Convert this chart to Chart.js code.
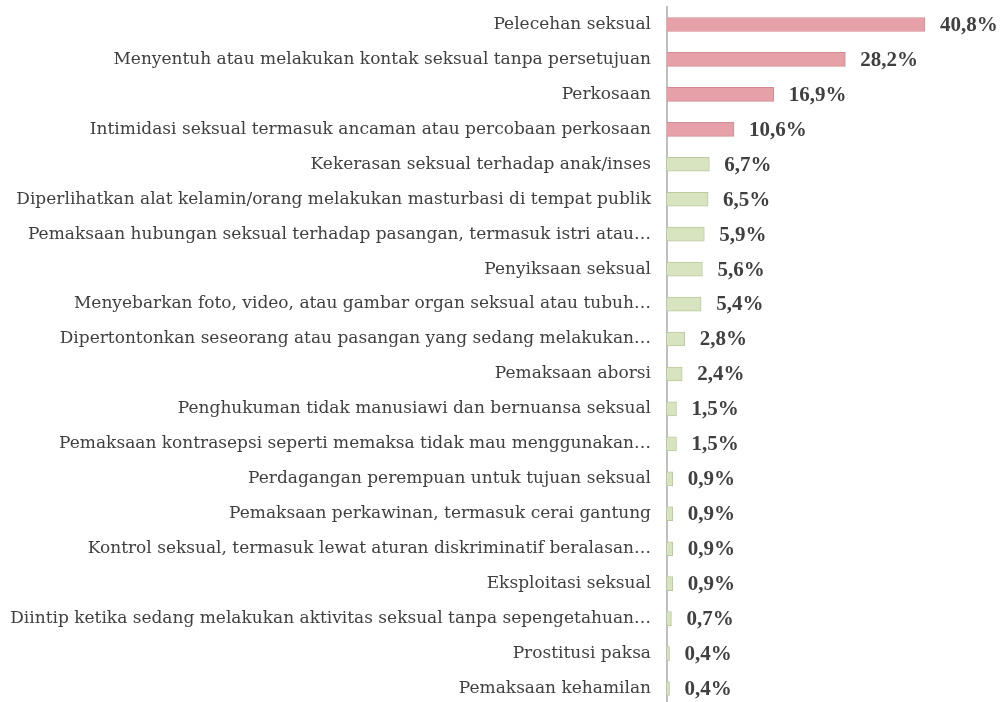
<!DOCTYPE html>
<html>
<head>
<meta charset="utf-8">
<script src="https://cdn.jsdelivr.net/npm/chart.js@4"></script>
<style>
  html, body { margin: 0; padding: 0; background: #fff; overflow: hidden; }
  #wrap { width: 1003px; height: 706px; position: relative; }
</style>
</head>
<body>
<div id="wrap"><canvas id="chart"></canvas></div>
<script>
// kategori kekerasan seksual
const categories = [
    'Pelecehan seksual',
    'Menyentuh atau melakukan kontak seksual tanpa persetujuan',
    'Perkosaan',
    'Intimidasi seksual termasuk ancaman atau percobaan perkosaan',
    'Kekerasan seksual terhadap anak/inses',
    'Diperlihatkan alat kelamin/orang melakukan masturbasi di tempat publik',
    'Pemaksaan hubungan seksual terhadap pasangan, termasuk istri atau…',
    'Penyiksaan seksual',
    'Menyebarkan foto, video, atau gambar organ seksual atau tubuh…',
    'Dipertontonkan seseorang atau pasangan yang sedang melakukan…',
    'Pemaksaan aborsi',
    'Penghukuman tidak manusiawi dan bernuansa seksual',
    'Pemaksaan kontrasepsi seperti memaksa tidak mau menggunakan…',
    'Perdagangan perempuan untuk tujuan seksual',
    'Pemaksaan perkawinan, termasuk cerai gantung',
    'Kontrol seksual, termasuk lewat aturan diskriminatif beralasan…',
    'Eksploitasi seksual',
    'Diintip ketika sedang melakukan aktivitas seksual tanpa sepengetahuan…',
    'Prostitusi paksa',
    'Pemaksaan kehamilan'
];

// persentase
const values = [40.8, 28.2, 16.9, 10.6, 6.7, 6.5, 5.9, 5.6, 5.4, 2.8,
                2.4, 1.5, 1.5, 0.9, 0.9, 0.9, 0.9, 0.7, 0.4, 0.4];

// 4 teratas disorot
const highlightCount = 4;

const pinkFill = '#e6a0a7';
const pinkBorder = '#d38a92';
const greenFill = '#d8e4bf';
const greenBorder = '#bccb9d';

const fills = values.map((v, i) => i < highlightCount ? pinkFill : greenFill);
const borders = values.map((v, i) => i < highlightCount ? pinkBorder : greenBorder);

// label nilai di ujung batang
const valueLabels = {
    id: 'valueLabels',
    afterDatasetsDraw(chart) {
        const ctx = chart.ctx;
        const meta = chart.getDatasetMeta(0);
        ctx.save();
        ctx.font = 'bold 21px "Liberation Serif"';
        ctx.fillStyle = '#404040';
        ctx.textAlign = 'left';
        ctx.textBaseline = 'middle';
        meta.data.forEach((bar, i) => {
            const txt = values[i].toFixed(1).replace('.', ',') + '%';
            ctx.fillText(txt, bar.x + 15, bar.y + 1);
        });
        ctx.restore();
    }
};

const ctx = document.getElementById('chart').getContext('2d');
new Chart(ctx, {
    type: 'bar',
    data: {
        labels: categories,
        datasets: [{
            data: values,
            backgroundColor: fills,
            borderColor: borders,
            borderWidth: 1,
            borderSkipped: 'left',
            barThickness: 14
        }]
    },
    options: {
        indexAxis: 'y',
        responsive: true,
        maintainAspectRatio: false,
        animation: false,
        layout: { padding: { top: 7, right: 4, bottom: 0, left: 0 } },
        plugins: {
            legend: { display: false },
            tooltip: { enabled: false }
        },
        scales: {
            x: {
                min: 0,
                max: 52.5,
                display: false
            },
            y: {
                grid: { display: false, drawTicks: false },
                border: { display: true, color: '#bfbfbf', width: 2 },
                ticks: {
                    autoSkip: false,
                    padding: 16,
                    color: '#404040',
                    font: { family: '"DejaVu Serif"', size: 17 }
                },
                afterFit(scale) {
                    scale.width = 667;
                    scale.paddingTop = 0;
                    scale.paddingBottom = 0;
                }
            }
        }
    },
    plugins: [valueLabels]
});
</script>
</body>
</html>
